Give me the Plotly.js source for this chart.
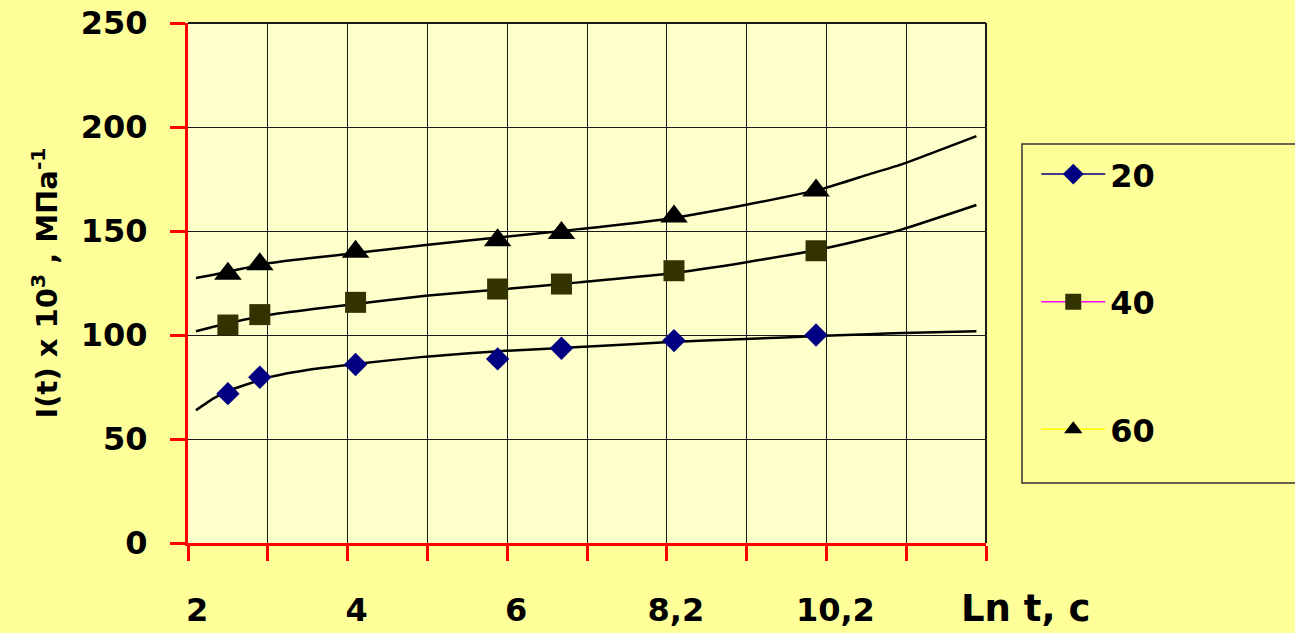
<!DOCTYPE html>
<html>
<head>
<meta charset="utf-8">
<script src="https://cdn.plot.ly/plotly-3.0.1.min.js"></script>
<style>html,body{margin:0;padding:0;background:#FFFF99;}#chart{width:1295px;height:633px;}</style>
</head>
<body>
<div id="chart"></div>
<script>
// measured points
const xPts = [2.50, 2.90, 4.10, 5.88, 6.68, 8.09, 9.87];
const y20 = [71.8, 79.7, 85.8, 88.5, 93.6, 97.3, 100.0];
const y40 = [104.8, 109.8, 115.7, 122.1, 124.5, 130.9, 140.5];
const y60 = [129.5, 134.0, 140.0, 145.5, 149.0, 157.0, 169.5];

// trend curves
const xTrend = [2.10, 2.32, 2.50, 3.00, 3.57, 4.10, 4.98, 5.98, 6.90, 7.98, 8.98, 9.97, 10.53, 10.96, 11.88];
const t20 = [63.8, 69.5, 73.0, 79.5, 83.6, 86.1, 89.6, 92.4, 94.2, 96.5, 98.1, 99.6, 100.4, 101.0, 101.8];
const t40 = [101.8, 104.0, 105.6, 109.6, 112.5, 114.9, 118.9, 122.1, 125.3, 129.3, 134.9, 141.6, 146.5, 150.9, 162.5];
const t60 = [127.4, 129.0, 130.4, 134.4, 137.1, 139.4, 143.3, 147.2, 150.9, 155.7, 162.5, 170.5, 177.2, 182.3, 195.6];

const seriesNames = ['20', '40', '60'];
const xTickVals = [2, 4, 6, 8, 10];
const xTickText = ['2', '4', '6', '8,2', '10,2'];
const yTickVals = [0, 50, 100, 150, 200, 250];

const FONT = 'DejaVu Sans, Verdana, sans-serif';

const markerStyles = [
  {symbol: 'diamond', size: 18, color: '#000080'},
  {symbol: 'square', size: 21, color: '#333300'},
  {symbol: 'triangle-up', size: 24, color: '#000000'}
];
const legendLineColors = ['#000080', '#FF00FF', '#FFFF00'];
const ySeries = [y20, y40, y60];
const tSeries = [t20, t40, t60];

const traces = [];
tSeries.forEach(function (t) {
  traces.push({x: xTrend, y: t, mode: 'lines',
    line: {color: '#000000', width: 2.5, shape: 'spline', smoothing: 0.5},
    showlegend: false, hoverinfo: 'skip'});
});
ySeries.forEach(function (ys, i) {
  traces.push({x: xPts, y: ys, mode: 'markers', name: seriesNames[i],
    marker: {symbol: markerStyles[i].symbol, size: markerStyles[i].size, color: markerStyles[i].color},
    showlegend: false});
});
seriesNames.forEach(function (n, i) {
  traces.push({x: [null], y: [null], mode: 'lines+markers', name: n, legendgroup: 'g' + i,
    line: {color: legendLineColors[i], width: 1.5},
    marker: {symbol: markerStyles[i].symbol, size: 16, color: markerStyles[i].color}});
});

const axisFont = {family: FONT, size: 32, color: '#000000', weight: 'bold'};

const layout = {
  width: 1295, height: 633,
  paper_bgcolor: '#FFFF99', plot_bgcolor: '#FFFFCC',
  margin: {l: 188, r: 309, t: 23, b: 90},
  font: axisFont,
  xaxis: {
    range: [2, 12], tickmode: 'array', tickvals: xTickVals, ticktext: xTickText,
    showgrid: true, gridcolor: '#1a1a1a', gridwidth: 1, zeroline: false,
    showline: true, linecolor: '#FF0000', linewidth: 3,
    ticks: 'outside', ticklen: 15, tickwidth: 3, tickcolor: '#FF0000',
    minor: {dtick: 1, tick0: 2, ticks: 'outside', ticklen: 15, tickwidth: 3, tickcolor: '#FF0000',
      showgrid: true, gridcolor: '#1a1a1a', gridwidth: 1},
    ticklabelshift: 9, ticklabelstandoff: 22,
    tickfont: axisFont,
    fixedrange: true
  },
  yaxis: {
    range: [0, 250], tickmode: 'array', tickvals: yTickVals,
    showgrid: true, gridcolor: '#1a1a1a', gridwidth: 1, zeroline: false,
    showline: true, linecolor: '#FF0000', linewidth: 3,
    ticks: 'outside', ticklen: 15, tickwidth: 3, tickcolor: '#FF0000',
    ticklabelstandoff: 16,
    tickfont: axisFont,
    title: {text: 'I(t) x 10<sup>3</sup> , МПа<sup>-1</sup>', standoff: 15,
      font: {family: FONT, size: 29, color: '#000000', weight: 'bold'}},
    fixedrange: true
  },
  legend: {
    x: 1.063, xanchor: 'left', y: 0.762, yanchor: 'top',
    bgcolor: 'rgba(0,0,0,0)', borderwidth: 0,
    tracegroupgap: 83, itemwidth: 64,
    font: axisFont
  },
  shapes: [
    {type: 'rect', xref: 'paper', yref: 'paper',
      x0: (1022 - 188) / 798, x1: (1300 - 188) / 798,
      y0: (543 - 483) / 520, y1: (543 - 144) / 520,
      line: {color: '#333333', width: 1.5}, fillcolor: 'rgba(0,0,0,0)', layer: 'below'},
    {type: 'line', xref: 'paper', yref: 'paper', x0: 0, x1: 1, y0: 1, y1: 1,
      line: {color: '#1a1a1a', width: 2}, layer: 'below'},
    {type: 'line', xref: 'paper', yref: 'paper', x0: 1, x1: 1, y0: 0, y1: 1,
      line: {color: '#1a1a1a', width: 2}, layer: 'below'}
  ],
  annotations: [
    {text: 'Ln t, c', xref: 'paper', yref: 'paper', x: (1025 - 188) / 798, y: (543 - 608) / 520,
      xanchor: 'center', yanchor: 'middle', showarrow: false,
      font: {family: FONT, size: 37, color: '#000000', weight: 'bold'}}
  ]
};

Plotly.newPlot('chart', traces, layout, {displayModeBar: false, staticPlot: true});
</script>
</body>
</html>
